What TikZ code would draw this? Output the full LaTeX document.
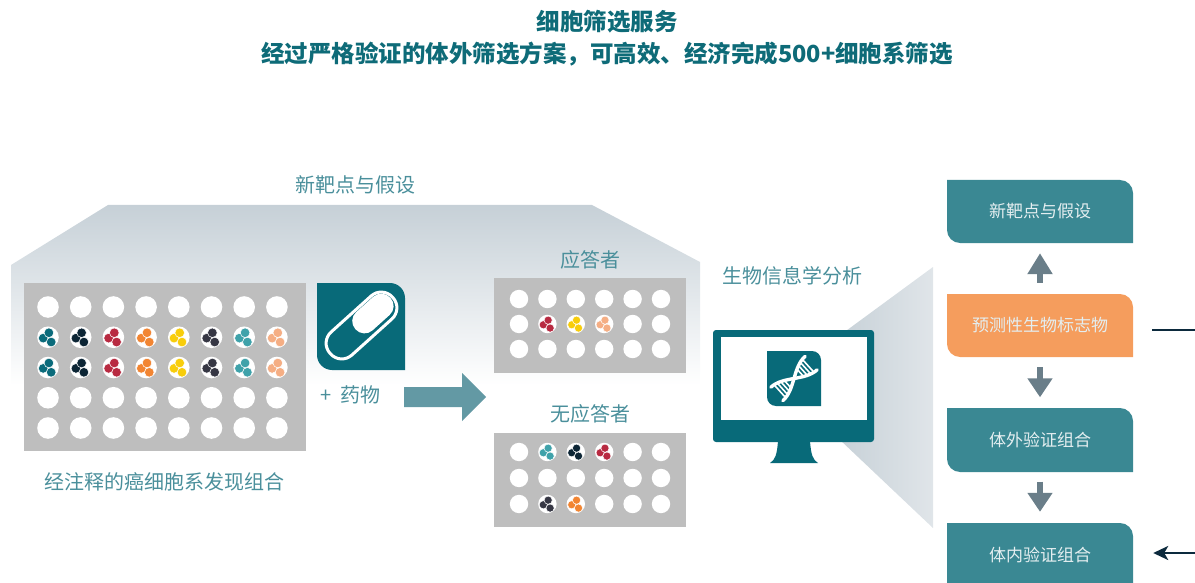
\documentclass[tikz,border=0pt]{standalone}
\usepackage{fontspec}
\setmainfont{Noto Sans CJK SC}
\usetikzlibrary{arrows.meta,calc}

\definecolor{titleteal}{HTML}{0E6B78}
\definecolor{labelteal}{HTML}{4A8F9B}
\definecolor{iconteal}{HTML}{086A79}
\definecolor{boxteal}{HTML}{3A8893}
\definecolor{boxorange}{HTML}{F59D5D}
\definecolor{boxtxt}{HTML}{E4EEF0}
\definecolor{arrgray}{HTML}{6A7E89}
\definecolor{bigarrow}{HTML}{6399A4}
\definecolor{navy}{HTML}{0C2A3D}
\definecolor{plategray}{HTML}{BEBEBE}
\definecolor{bgtop}{HTML}{C6D0D7}
\definecolor{conel}{HTML}{C2CDD4}
\definecolor{coner}{HTML}{E0E5E9}
% cell line colours
\definecolor{cA}{HTML}{0B6B7B}
\definecolor{cB}{HTML}{0C2535}
\definecolor{cC}{HTML}{B82A41}
\definecolor{cD}{HTML}{F28532}
\definecolor{cE}{HTML}{F8CD0B}
\definecolor{cF}{HTML}{363744}
\definecolor{cG}{HTML}{3FA2AA}
\definecolor{cH}{HTML}{F5AE84}

% leaf-shaped panel: x1 y1 x2 y2 radius colour (top-right and bottom-left rounded)
\newcommand{\leafshape}[6]{%
  \fill[#6] (#1,#2) -- ({#3-#5},#2) .. controls ({#3-0.45*#5},#2) and (#3,{#2+0.45*#5}) .. (#3,{#2+#5})
    -- (#3,#4) -- ({#1+#5},#4) .. controls ({#1+0.45*#5},#4) and (#1,{#4-0.45*#5}) .. (#1,{#4-#5}) -- cycle;}

% three cells inside a well: x y colour size
\newcommand{\cellgroup}[4]{%
  \fill[#3,draw=white,line width=0.5pt] ({#1-4.8*#4},{#2+0.9*#4}) circle[radius={4.8*#4}];
  \fill[#3,draw=white,line width=0.5pt] ({#1+0.9*#4},{#2-4.5*#4}) circle[radius={4.8*#4}];
  \fill[#3,draw=white,line width=0.5pt] ({#1+3.2*#4},{#2+4.8*#4}) circle[radius={4.8*#4}];}

\tikzset{
  label/.style={text=labelteal,font=\fontsize{20}{24}\selectfont,inner sep=0pt},
  rbox/.style={minimum width=186pt,minimum height=63pt,inner sep=0pt,text=boxtxt,
    font=\fontsize{17}{20}\selectfont},
  garrow/.style={draw=arrgray,line width=6pt,-{Triangle[length=19pt,width=24pt]}},
  navyline/.style={draw=navy,line width=2.5pt},
}

\begin{document}
\begin{tikzpicture}[x=1pt,y=-1pt]
\useasboundingbox (0,0) rectangle (1195,583);
\clip (0,0) rectangle (1195,583);

% title
\node[text=titleteal,font=\fontsize{23.5}{28}\bfseries] (t1) at (607,22) {细胞筛选服务};
\node[text=titleteal,font=\fontsize{23.5}{28}\bfseries] (t2) at (607,54) {经过严格验证的体外筛选方案，可高效、经济完成500+细胞系筛选};

% backdrop of the screening stage
\shade[top color=bgtop,middle color=bgtop!35!white,bottom color=white]
  (108,205) -- (592,205) -- (700,262) -- (700,385) -- (11,385) -- (11,265) -- cycle;
\node[label] (hyp) at (355,185) {新靶点与假设};

% cone from the monitor to the result column
\shade[left color=conel,right color=coner]
  (820,350) -- (933,267) -- (933,528) -- (820,421) -- cycle;

% cell line panel
\fill[plategray] (24,283) rectangle (306,451);
\foreach \c in {0,...,7}
  \foreach \r in {0,...,4}
    \fill[white] ({48+32.7*\c},{307+30.25*\r}) circle[radius=10.8];
\foreach \col [count=\c from 0] in {cA,cB,cC,cD,cE,cF,cG,cH} {
  \pgfmathsetmacro{\cx}{48+32.7*\c}
  \cellgroup{\cx}{337.25}{\col}{1}
  \cellgroup{\cx}{367.5}{\col}{1}
}
\node[label] (panel) at (165,482) {经注释的癌细胞系发现组合};

% drug icon
\leafshape{317}{283}{405}{370}{15}{iconteal}
\begin{scope}[shift={(361.5,325.5)},rotate=42]
  \fill[white,rounded corners=12] (-7,-13.5) rectangle (40,11);
  \draw[white,line width=3pt,rounded corners=15] (-42,-15.5) rectangle (42,15.5);
\end{scope}
\node[label,anchor=west] (drug) at (320,395) {+\hspace{9pt}药物};

% treatment arrow
\fill[bigarrow] (404,387) -- (462,387) -- (462,373) -- (486,397) -- (462,421) -- (462,407) -- (404,407) -- cycle;

% responders
\node[label] (resp) at (590,260) {应答者};
\fill[plategray] (494,278) rectangle (686,373);
\foreach \c in {0,...,5}
  \foreach \r in {0,...,2}
    \fill[white] ({519+28.4*\c},{299+25*\r}) circle[radius=9.2];
\cellgroup{547.4}{324}{cC}{0.85}
\cellgroup{575.8}{324}{cE}{0.85}
\cellgroup{604.2}{324}{cH}{0.85}

% non-responders
\node[label] (nonresp) at (590,414) {无应答者};
\fill[plategray] (494,433) rectangle (686,527);
\foreach \c in {0,...,5}
  \foreach \r in {0,...,2}
    \fill[white] ({519+28.4*\c},{452+26*\r}) circle[radius=9.2];
\cellgroup{547.4}{452}{cG}{0.85}
\cellgroup{575.8}{452}{cB}{0.85}
\cellgroup{604.2}{452}{cC}{0.85}
\cellgroup{547.4}{504}{cF}{0.85}
\cellgroup{575.8}{504}{cD}{0.85}

% bioinformatics monitor
\node[label] (bio) at (792,276) {生物信息学分析};
\fill[iconteal,rounded corners=3pt] (713,330) rectangle (874,442);
\fill[white] (721,337) rectangle (867,420);
\fill[iconteal] (778,441) -- (810,441) .. controls (811,455) and (813,460) .. (818,463)
  -- (770,463) .. controls (775,460) and (777,455) .. (778,441) -- cycle;
\leafshape{767}{351}{821}{406}{9}{iconteal}
\begin{scope}[shift={(794,378.5)},rotate=42,line cap=round]
  \draw[white,line width=3.4pt] plot[domain=-23:23,samples=40,smooth] (\x,{9*sin(\x*90/23)});
  \draw[white,line width=3.4pt] plot[domain=-23:23,samples=40,smooth] (\x,{-9*sin(\x*90/23)});
  \foreach \u in {-19,-15.5,-12,-8.5,8.5,12,15.5,19}
    \draw[white,line width=1.6pt] (\u,{9*sin(\u*90/23)}) -- (\u,{-9*sin(\u*90/23)});
\end{scope}

% result column
\leafshape{947}{180}{1133}{243}{13}{boxteal}
\leafshape{947}{294}{1133}{357}{13}{boxorange}
\leafshape{947}{408}{1133}{472}{13}{boxteal}
\leafshape{947}{523}{1133}{600}{13}{boxteal}
\node[rbox] (b1) at (1040,211.5) {新靶点与假设};
\node[rbox] (b2) at (1040,325.5) {预测性生物标志物};
\node[rbox] (b3) at (1040,440) {体外验证组合};
\node[rbox] (b4) at (1040,554.5) {体内验证组合};

\draw[garrow,shorten <=11pt,shorten >=10pt,-{Triangle[length=21pt,width=24pt]}] (b2.north) -- (b1.south);
\draw[garrow,shorten <=10pt,shorten >=11pt] (b2.south) -- (b3.north);
\draw[garrow,shorten <=10pt,shorten >=11pt] (b3.south) -- (b4.north);

% links leaving the column
\coordinate (r1) at (1195,330);
\coordinate (r2) at (1195,553);
\draw[navyline,shorten >=19pt] (r1) -- (r1 -| b2.east);
\draw[navyline,shorten >=20pt,-{Stealth[length=15pt,width=14pt,inset=4pt]}] (r2) -- (r2 -| b4.east);
\end{tikzpicture}
\end{document}
